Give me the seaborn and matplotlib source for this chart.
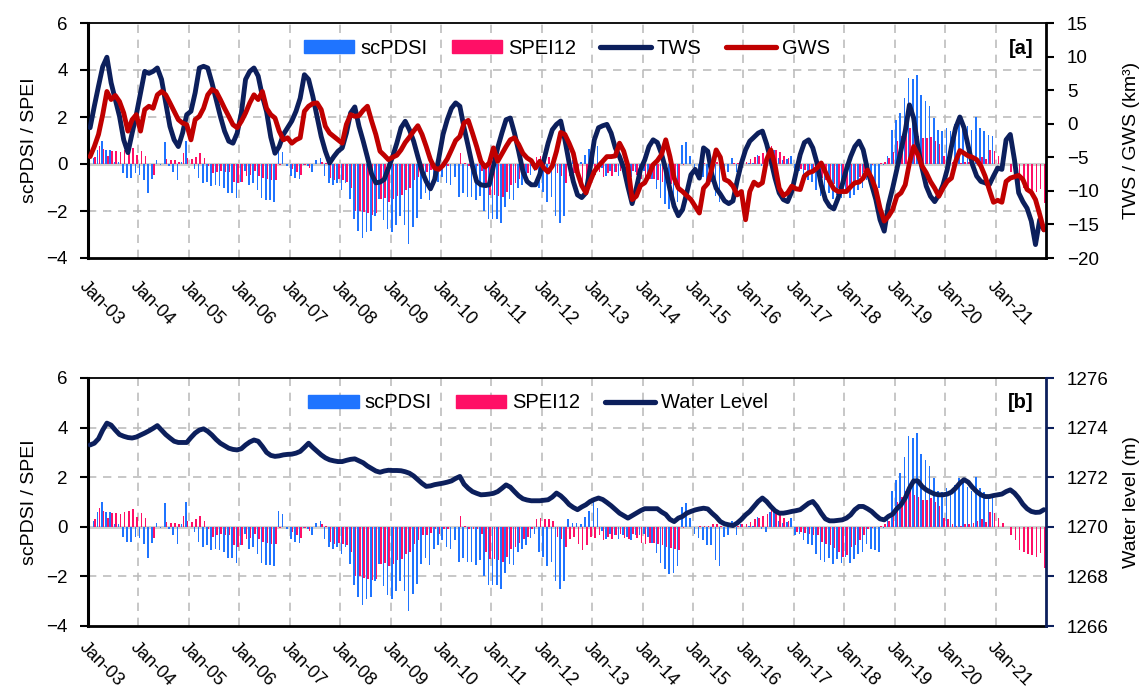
import numpy as np
import pandas as pd
import matplotlib
matplotlib.use("Agg")
import matplotlib.pyplot as plt
import matplotlib.transforms as mtransforms
import seaborn as sns
from matplotlib.lines import Line2D
from matplotlib.patches import Patch

sns.set_theme(style="white")
plt.rcParams["font.family"] = ["Liberation Sans", "DejaVu Sans"]
plt.rcParams["text.color"] = "black"
plt.rcParams["axes.labelcolor"] = "black"
plt.rcParams["xtick.color"] = "black"
plt.rcParams["ytick.color"] = "black"

# ---------------- data (monthly, Jan 2003 - Dec 2021) ----------------
years = list(range(2003, 2022))
tick_labels = [f"Jan-{y % 100:02d}" for y in years]

scpdsi = [
    -0.1, 0.25, 0.6, 1.0, 0.6, 0.6, 0.1, 0.1, -0.4, -0.6, -0.6, -0.4,            # 2003
    -0.45, -0.7, -1.25, -0.65, 0.15, -0.05, 0.95, -0.1, -0.35, -0.7, 0.1, 1.0,   # 2004
    0.0, -0.2, -0.6, -0.8, -0.75, -0.95, -0.9, -0.95, -1.0, -1.25, -1.25, -1.45, # 2005
    -0.75, -0.3, -0.9, -0.8, -1.1, -1.45, -1.55, -1.55, -1.6, 0.65, 0.5, -0.1,   # 2006
    -0.5, -0.6, -0.65, -0.05, -0.1, -0.35, 0.15, 0.25, -0.5, -0.8, -0.9, -0.8,   # 2007
    -1.1, -0.8, -1.5, -2.35, -2.85, -3.15, -2.9, -2.85, -2.2, -1.5, -2.4, -2.75, # 2008
    -2.9, -2.6, -2.2, -2.6, -3.4, -2.7, -2.3, -1.5, -1.25, -1.55, -0.9, -0.75,   # 2009
    -0.55, -0.8, -0.9, -0.55, -1.4, -1.25, -1.4, -1.4, -1.55, -1.35, -2.0, -2.35,# 2010
    -2.35, -2.35, -2.5, -1.85, -1.5, -1.55, -1.0, -0.9, -0.75, -0.45, -0.3, -1.0,# 2011
    -1.2, -1.6, -1.4, -2.2, -2.5, -2.2, 0.3, 0.15, 0.15, 0.1, 0.4, 0.65,         # 2012
    1.05, 0.75, -0.15, -0.5, -0.3, -0.35, -0.5, -0.35, -0.4, -0.55, -0.35, -0.35,# 2013
    -0.3, -0.4, -0.65, -1.05, -1.45, -1.7, -1.9, -1.85, -1.6, 0.8, 0.95, 0.35,   # 2014
    -0.3, -0.45, -0.55, -0.75, -0.75, -1.35, -1.6, -0.4, -0.35, 0.25, -0.35, 0.1,# 2015
    0.0, 0.05, 0.05, 0.4, -0.1, -0.2, 0.6, 0.6, 0.25, 0.15, 0.2, 0.35,           # 2016
    -0.35, -0.3, -0.55, -0.7, -0.75, -1.1, -1.35, -1.4, -1.25, -1.5, -1.3, -1.45,# 2017
    -1.2, -1.45, -1.3, -1.1, -1.0, -0.7, -0.9, -0.95, -1.0, -0.05, 0.35, 1.45,   # 2018
    1.87, 2.15, 2.8, 3.65, 3.6, 3.8, 2.95, 2.7, 2.45, 1.95, 1.45, 1.4,           # 2019
    1.55, 1.4, 1.7, 1.95, 1.8, 1.6, 1.45, 2.0, 1.55, 1.4, 1.25, 1.2,             # 2020
    np.nan, np.nan, np.nan, np.nan, np.nan, np.nan,
    np.nan, np.nan, np.nan, np.nan, np.nan, np.nan,                              # 2021
]

spei12 = [
    0.0, 0.3, 0.75, 0.65, 0.35, 0.55, 0.55, 0.5, 0.6, 0.65, 0.7, 0.4,            # 2003
    0.55, 0.35, 0.0, -0.45, 0.0, 0.0, 0.2, 0.15, 0.15, 0.1, 0.45, 0.25,          # 2004
    0.2, 0.3, 0.45, 0.25, -0.1, -0.4, -0.35, -0.3, -0.35, -0.35, -0.75, -0.8,    # 2005
    -0.75, -0.5, -0.45, -0.3, -0.5, -0.6, -0.65, -0.7, -0.7, -0.05, 0.0, 0.0,    # 2006
    -0.2, -0.35, -0.45, -0.05, -0.15, 0.0, 0.0, 0.1, 0.05, -0.6, -0.7, -0.65,    # 2007
    -0.7, -0.75, -1.0, -2.0, -2.0, -2.05, -2.1, -2.15, -2.1, -1.5, -1.45, -1.6,  # 2008
    -1.5, -1.35, -1.3, -1.1, -1.0, -0.7, -0.55, -0.35, -0.35, -0.25, -0.1, -0.3, # 2009
    -0.1, -0.1, 0.0, 0.0, 0.45, 0.05, -0.1, -0.1, -0.1, -0.3, -1.0, -1.3,        # 2010
    -1.3, -1.35, -1.4, -1.2, -0.9, -0.8, -0.65, -0.5, -0.4, -0.1, 0.3, 0.35,     # 2011
    0.3, 0.3, 0.25, -0.4, -0.5, -0.8, -0.5, -0.4, -0.7, -0.95, -0.75, -0.4,      # 2012
    -0.45, -0.35, -0.55, -0.4, -0.5, -0.35, -0.3, -0.45, -0.5, -0.3, -0.45, -0.65,# 2013
    -0.7, -0.65, -0.65, -0.7, -0.75, -0.8, -0.85, -0.9, -0.95, -0.05, 0.0, 0.0,  # 2014
    0.0, 0.05, 0.05, 0.05, 0.1, 0.1, 0.05, 0.0, 0.0, 0.05, 0.05, 0.1,            # 2015
    0.1, 0.2, 0.3, 0.35, 0.45, 0.5, 0.75, 0.6, 0.5, 0.35, 0.25, 0.0,             # 2016
    -0.2, -0.2, -0.25, -0.3, -0.35, -0.35, -0.6, -0.7, -0.75, -0.85, -1.0, -1.2, # 2017
    -1.15, -0.8, -0.75, -0.55, -0.35, -0.1, -0.05, 0.0, 0.05, 0.1, 0.25, 0.5,    # 2018
    1.0, 1.2, 1.45, 1.55, 1.3, 1.2, 1.1, 1.1, 1.15, 1.0, 0.85, 0.35,             # 2019
    0.3, 0.1, 0.05, 0.05, 0.1, 0.1, 0.15, 0.25, 0.3, 0.2, 0.6, 0.55,             # 2020
    0.35, 0.15, 0.0, -0.35, -0.55, -0.95, -1.0, -1.1, -1.15, -1.2, -1.05, -1.65, # 2021
]

tws = [
    -0.6, 2.6, 5.6, 8.5, 9.9, 6.1, 3.6, 1.1, -2.4, -4.3, -1.4, 1.35,
    4.6, 7.8, 7.5, 7.8, 8.3, 6.6, 3.1, -0.4, -2.4, -3.4, -1.4, 1.35,
    1.85, 4.6, 8.3, 8.55, 8.3, 6.1, 3.6, 1.1, -1.1, -2.6, -2.9, -1.4,
    1.6, 6.6, 7.8, 8.3, 7.1, 4.1, 1.8, -2.0, -4.4, -3.4, -1.6, -0.6,
    0.4, 1.85, 3.8, 7.3, 6.6, 4.1, 1.1, -1.9, -4.1, -5.85, -4.9, -4.1,
    -3.6, -1.4, 1.6, 2.5, -0.4, -2.6, -5.0, -7.5, -8.8, -8.7, -8.3, -6.6,
    -4.9, -2.9, -0.6, 0.36, -0.9, -2.6, -4.9, -7.1, -8.6, -9.7, -8.3, -5.1,
    -1.6, 0.6, 2.3, 3.1, 2.6, -0.6, -3.4, -6.3, -8.6, -9.1, -9.2, -9.1,
    -6.3, -3.6, -1.4, 0.6, 0.85, -1.4, -4.1, -7.1, -8.6, -9.1, -9.1, -7.6,
    -5.4, -2.9, -0.9, -0.1, 0.4, -2.4, -5.8, -8.6, -10.6, -11.0, -10.3, -6.6,
    -2.4, -0.6, -0.3, -0.1, -1.4, -3.6, -4.9, -6.6, -9.4, -11.9, -9.6, -6.8,
    -5.4, -3.4, -2.4, -2.8, -4.5, -6.8, -9.8, -12.3, -13.7, -12.8, -10.3, -7.6,
    -6.8, -8.1, -3.6, -4.1, -7.6, -9.6, -10.5, -11.5, -11.9, -11.5, -8.5, -5.9,
    -3.9, -2.6, -2.0, -1.4, -1.1, -3.0, -5.4, -8.1, -10.3, -11.3, -11.6, -10.1,
    -7.3, -4.6, -2.8, -2.4, -3.6, -5.85, -9.1, -11.3, -12.3, -12.7, -11.1, -9.1,
    -6.8, -4.9, -3.4, -2.6, -3.9, -6.8, -9.1, -11.3, -14.3, -16.0, -12.1, -9.6,
    -6.8, -3.9, -1.1, 2.8, 0.85, -3.4, -6.6, -9.3, -10.8, -11.6, -10.6, -9.1,
    -6.8, -3.4, -0.6, 1.0, -0.6, -3.4, -6.1, -7.8, -8.6, -8.8, -9.1, -7.8,
    -6.6, -6.8, -2.4, -1.6, -5.4, -10.3, -11.6, -12.6, -14.5, -18.0, -14.3, -15.8,
]

gws = [
    -4.9, -3.4, -1.6, 1.35, 4.8, 3.6, 4.2, 3.3, 1.6, -1.1, 0.6, 1.35,
    -1.1, 2.1, 2.6, 2.3, 4.3, 4.8, 4.3, 3.1, 1.85, 0.6, 0.1, -0.14,
    -2.4, 0.6, 1.1, 2.3, 4.3, 5.1, 4.8, 3.6, 2.3, 1.1, -0.14, -0.6,
    0.36, 1.6, 3.1, 4.3, 3.6, 4.8, 2.3, 1.35, 0.85, -1.1, -2.4, -2.1,
    -2.9, -2.4, -2.1, 1.85, 2.6, 3.0, 3.1, 2.1, -0.4, -1.4, -1.9, -2.4,
    -2.9, -0.1, 1.35, 1.1, 1.2, 2.0, 2.6, 0.4, -1.6, -4.1, -4.7, -5.35,
    -5.0, -4.7, -3.9, -2.8, -2.0, -1.1, -0.3, -1.6, -3.4, -5.35, -6.6, -6.8,
    -6.2, -5.25, -3.9, -2.5, -1.9, 0.1, 0.5, -1.4, -3.4, -5.6, -6.45, -5.85,
    -3.6, -5.6, -4.5, -3.4, -2.4, -2.1, -3.1, -4.4, -5.1, -5.5, -6.6, -5.6,
    -6.6, -7.2, -6.3, -4.1, -1.3, -1.6, -2.9, -4.4, -7.3, -9.2, -10.3, -8.6,
    -7.1, -6.3, -5.6, -4.9, -4.9, -4.8, -2.9, -4.1, -6.3, -11.3, -10.8, -9.2,
    -8.8, -7.6, -6.1, -5.5, -4.6, -2.4, -4.9, -8.1, -9.6, -10.1, -10.7, -11.3,
    -12.3, -13.3, -9.6, -8.9, -6.6, -3.9, -5.0, -8.3, -8.6, -9.3, -10.6, -10.1,
    -14.3, -10.1, -8.7, -9.2, -8.8, -5.35, -3.9, -6.1, -9.6, -10.7, -10.3, -9.3,
    -9.7, -9.8, -7.8, -7.3, -7.1, -6.6, -5.85, -7.2, -8.6, -9.7, -10.1, -10.1,
    -10.1, -9.4, -8.8, -8.7, -8.1, -6.9, -8.1, -9.8, -12.6, -14.5, -13.8, -12.8,
    -10.8, -10.3, -9.1, -5.85, -3.4, -4.6, -6.3, -7.3, -8.6, -9.6, -10.8, -9.6,
    -8.6, -8.1, -5.6, -4.0, -4.4, -4.8, -5.0, -5.35, -6.3, -7.8, -9.8, -11.7,
    -11.4, -11.7, -8.6, -8.1, -7.9, -7.7, -8.3, -9.8, -10.2, -11.3, -13.5, -15.8,
]

water_level = [
    1273.30, 1273.37, 1273.55, 1273.90, 1274.18, 1274.10, 1273.90, 1273.72, 1273.65, 1273.60, 1273.58, 1273.62,
    1273.70, 1273.78, 1273.87, 1273.97, 1274.08, 1273.90, 1273.72, 1273.58, 1273.45, 1273.40, 1273.40, 1273.40,
    1273.60, 1273.78, 1273.90, 1273.95, 1273.85, 1273.70, 1273.52, 1273.37, 1273.27, 1273.17, 1273.12, 1273.10,
    1273.15, 1273.30, 1273.42, 1273.50, 1273.45, 1273.24, 1273.00, 1272.88, 1272.84, 1272.86, 1272.90, 1272.92,
    1272.93, 1272.97, 1273.04, 1273.20, 1273.37, 1273.20, 1273.05, 1272.90, 1272.78, 1272.70, 1272.66, 1272.63,
    1272.63, 1272.68, 1272.72, 1272.74, 1272.66, 1272.58, 1272.45, 1272.35, 1272.25, 1272.20, 1272.25, 1272.28,
    1272.27, 1272.27, 1272.26, 1272.22, 1272.16, 1272.05, 1271.90, 1271.75, 1271.63, 1271.65, 1271.70, 1271.73,
    1271.76, 1271.80, 1271.85, 1271.95, 1272.03, 1271.72, 1271.55, 1271.42, 1271.35, 1271.29, 1271.30, 1271.32,
    1271.35, 1271.42, 1271.55, 1271.69, 1271.60, 1271.42, 1271.25, 1271.13, 1271.08, 1271.05, 1271.05, 1271.05,
    1271.07, 1271.09, 1271.20, 1271.36, 1271.25, 1271.09, 1270.90, 1270.78, 1270.69, 1270.80, 1270.89, 1271.02,
    1271.10, 1271.16, 1271.10, 1270.98, 1270.85, 1270.70, 1270.55, 1270.45, 1270.35, 1270.45, 1270.55, 1270.65,
    1270.73, 1270.73, 1270.73, 1270.73, 1270.60, 1270.50, 1270.30, 1270.21, 1270.35, 1270.42, 1270.55, 1270.62,
    1270.68, 1270.72, 1270.75, 1270.72, 1270.55, 1270.40, 1270.21, 1270.12, 1270.08, 1270.05, 1270.15, 1270.30,
    1270.48, 1270.62, 1270.82, 1271.02, 1271.16, 1271.02, 1270.82, 1270.65, 1270.55, 1270.55, 1270.58, 1270.62,
    1270.65, 1270.69, 1270.82, 1270.95, 1271.02, 1270.82, 1270.55, 1270.32, 1270.24, 1270.24, 1270.26, 1270.28,
    1270.35, 1270.48, 1270.69, 1270.82, 1270.82, 1270.73, 1270.62, 1270.46, 1270.32, 1270.28, 1270.42, 1270.51,
    1270.73, 1270.89, 1271.16, 1271.56, 1271.85, 1271.85, 1271.63, 1271.49, 1271.40, 1271.32, 1271.29, 1271.29,
    1271.32, 1271.40, 1271.56, 1271.76, 1271.90, 1271.80, 1271.59, 1271.42, 1271.29, 1271.22, 1271.22, 1271.26,
    1271.29, 1271.32, 1271.42, 1271.49, 1271.36, 1271.16, 1270.91, 1270.73, 1270.62, 1270.58, 1270.59, 1270.69,
]

# ---------------- styling ----------------
C_PDSI = "#1f74ff"
C_SPEI = "#ff0f66"
C_TWS = "#0c1f5c"
C_GWS = "#c00000"
GRID = "#bdbdbd"
FS_TICK = 13.5
FS_XT = 13
FS_LEG = 14.5
FS_LAB = 14

months = np.arange(len(spei12))
pdsi_df = pd.DataFrame({"x": months - 0.2, "v": scpdsi}).dropna()
spei_df = pd.DataFrame({"x": months + 0.2, "v": spei12}).dropna()

W, H = 1144, 695
fig = plt.figure(figsize=(W / 100, H / 100), dpi=100)
ax_a = fig.add_axes([88 / W, 1 - 258 / H, 958 / W, 235 / H])
ax_b = fig.add_axes([88 / W, 1 - 626 / H, 958 / W, 248 / H])

year_pos = np.arange(len(years)) * 12 - 0.5
shift = mtransforms.ScaledTranslation(6 / 100, 0, fig.dpi_scale_trans)


def base_panel(ax, xpad):
    ax.set_axisbelow(True)
    for df, col in ((pdsi_df, C_PDSI), (spei_df, C_SPEI)):
        sns.barplot(data=df, x="x", y="v", native_scale=True, width=0.38,
                    color=col, saturation=1, errorbar=None, linewidth=0,
                    antialiased=False, ax=ax)
    ax.set_xlim(-0.5, len(months) - 0.5)
    ax.set_ylim(-4, 6)
    ax.set_yticks([-4, -2, 0, 2, 4, 6])
    ax.set_xticks(year_pos)
    ax.set_xticklabels(tick_labels, rotation=-45, ha="left", va="top",
                       rotation_mode="anchor", fontsize=FS_XT, color="black")
    for lab in ax.get_xticklabels():
        lab.set_transform(lab.get_transform() + shift)
    ax.tick_params(axis="x", length=0, pad=xpad)
    ax.tick_params(axis="y", direction="out", length=6, width=1.5,
                   color="black", labelcolor="black", labelsize=FS_TICK,
                   pad=8.5, left=True)
    for y in (2, 4, -2):
        ax.axhline(y, color=GRID, lw=1.2, ls=(0, (5, 4)), zorder=0)
    for x in year_pos[1:]:
        ax.axvline(x, color=GRID, lw=1.2, ls=(0, (5, 4)), zorder=0)
    ax.axhline(0, color="#cfcfcf", lw=2.2, zorder=0.5)
    ax.set_xlabel("")
    ax.set_ylabel("scPDSI / SPEI", fontsize=FS_LAB, color="black")
    ax.yaxis.set_label_coords(-0.052, 0.5)
    ax.spines["left"].set_linewidth(2.2)
    ax.spines["left"].set_color("black")
    ax.spines["bottom"].set_linewidth(2.0)
    ax.spines["bottom"].set_color("black")
    ax.spines["top"].set_linewidth(1.3)
    ax.spines["top"].set_color("black")
    ax.spines["right"].set_visible(False)
    ax.grid(False)


# ---------------- panel a ----------------
base_panel(ax_a, xpad=14)
ax_ar = ax_a.twinx()
sns.lineplot(x=months, y=tws, ax=ax_ar, color=C_TWS, lw=3.5)
sns.lineplot(x=months, y=gws, ax=ax_ar, color=C_GWS, lw=3.5)
ax_ar.set_ylim(-20, 15)
ax_ar.set_yticks(range(-20, 16, 5))
ax_ar.tick_params(axis="y", direction="out", length=6, width=1.5,
                  color="black", labelcolor="black", labelsize=FS_TICK,
                  pad=9, right=True)
ax_ar.set_ylabel("TWS / GWS (km³)", fontsize=FS_LAB, color="black")
ax_ar.yaxis.set_label_coords(1.08, 0.5)
for s in ("left", "top", "bottom"):
    ax_ar.spines[s].set_visible(False)
ax_ar.spines["right"].set_linewidth(2.0)
ax_ar.spines["right"].set_color("black")
ax_ar.grid(False)

handles_a = [Patch(color=C_PDSI), Patch(color=C_SPEI),
             Line2D([], [], color=C_TWS, lw=3.8),
             Line2D([], [], color=C_GWS, lw=3.8)]
ax_ar.legend(handles_a, ["scPDSI", "SPEI12", "TWS", "GWS"], ncol=4,
             loc="center", bbox_to_anchor=(0.5, 0.893), frameon=False,
             fontsize=FS_LEG, handlelength=2.5, handleheight=0.6,
             handletextpad=0.3, columnspacing=1.2, labelcolor="black")
ax_ar.text(0.987, 0.893, "[a]", transform=ax_ar.transAxes, ha="right",
           va="center", fontsize=FS_LEG, fontweight="bold", color="black")

# ---------------- panel b ----------------
base_panel(ax_b, xpad=9)
ax_br = ax_b.twinx()
sns.lineplot(x=months, y=water_level, ax=ax_br, color=C_TWS, lw=3.5)
ax_br.set_ylim(1266, 1276)
ax_br.set_yticks(range(1266, 1277, 2))
ax_br.tick_params(axis="y", direction="out", length=6, width=1.5,
                  color=C_TWS, labelcolor="black", labelsize=FS_TICK,
                  pad=9, right=True)
ax_br.set_ylabel("Water level (m)", fontsize=FS_LAB, color="black")
ax_br.yaxis.set_label_coords(1.08, 0.5)
for s in ("left", "top", "bottom"):
    ax_br.spines[s].set_visible(False)
ax_br.spines["right"].set_linewidth(2.0)
ax_br.spines["right"].set_color(C_TWS)
ax_br.grid(False)

handles_b = [Patch(color=C_PDSI), Patch(color=C_SPEI),
             Line2D([], [], color=C_TWS, lw=3.8)]
ax_br.legend(handles_b, ["scPDSI", "SPEI12", "Water Level"], ncol=3,
             loc="center", bbox_to_anchor=(0.47, 0.9), frameon=False,
             fontsize=FS_LEG, handlelength=2.5, handleheight=0.6,
             handletextpad=0.3, columnspacing=1.2, labelcolor="black")
ax_br.text(0.987, 0.9, "[b]", transform=ax_br.transAxes, ha="right",
           va="center", fontsize=FS_LEG, fontweight="bold", color="black")

fig.savefig("out.png", dpi=100, facecolor="white")
